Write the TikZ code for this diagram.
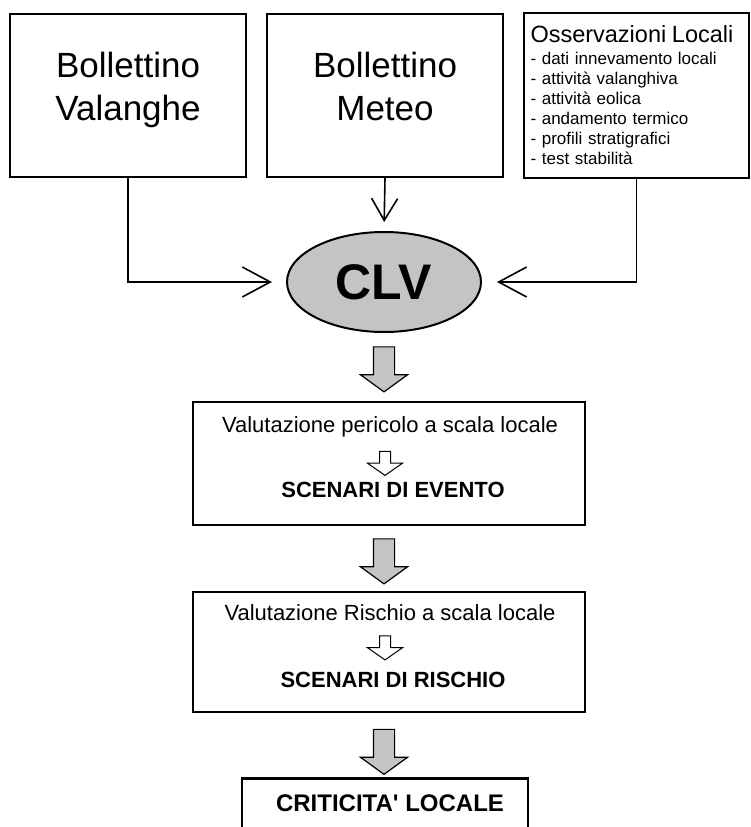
\documentclass[tikz,border=0pt]{standalone}
\usepackage{fontspec}
\setmainfont{Liberation Sans}
\usetikzlibrary{arrows.meta,shapes.geometric,shapes.arrows}
\definecolor{clvgray}{HTML}{C4C4C4}

\begin{document}
\begin{tikzpicture}[x=1pt, y=-1pt,
    every node/.style={font=\fontsize{22}{26}\selectfont},
    srcbox/.style={rectangle, draw, line width=1.5pt, minimum width=236pt,
        minimum height=163pt},
    srctext/.style={align=center, font=\fontsize{35}{43}\selectfont, text depth=8pt},
    stagebox/.style={rectangle, draw, line width=2.8pt, minimum width=392pt},
    stagetitle/.style={font=\fontsize{22}{26}\selectfont\bfseries},
    conn/.style={-{Straight Barb[length=28pt, width=30pt]}, line width=1.6pt},
    bigarrow/.style={single arrow, draw, line width=1.2pt, fill=clvgray, rotate=-90,
        minimum height=45pt, inner xsep=0pt, inner ysep=10pt,
        single arrow head extend=13pt, single arrow tip angle=108},
    smallarrow/.style={single arrow, draw, line width=1pt, fill=white, rotate=-90,
        minimum height=24pt, inner xsep=0pt, inner ysep=5pt,
        single arrow head extend=12pt, single arrow tip angle=110},
]
\useasboundingbox (0,0) rectangle (750,827);

% Sources
\node[srcbox] (boll) at (128,95.5) {};
\node[srctext] (bolltxt) at (128,90) {Bollettino\\Valanghe};
\node[srcbox] (meteo) at (385,95.5) {};
\node[srctext] (meteotxt) at (385,90) {Bollettino\\Meteo};
\node[srcbox, minimum width=225pt, minimum height=165pt, align=left, text width=212pt,
    font=\fontsize{17}{20}\selectfont] (oss) at (636.5,95.5)
    {{\fontsize{23.5}{23.5}\selectfont Osservazioni Locali}\\[2pt]
     - dati innevamento locali\\- attività valanghiva\\- attività eolica\\
     - andamento termico\\- profili stratigrafici\\- test stabilità};

% CLV
\node[ellipse, draw, line width=2pt, fill=clvgray, minimum width=194pt, minimum height=100pt,
    font=\fontsize{50}{50}\selectfont\bfseries] (clv) at (384,282) {CLV};

\draw[conn, shorten >=14pt] (boll.south) |- (clv.west);
\draw[-{Straight Barb[length=22pt, width=26pt]}, line width=1.6pt, shorten >=9pt] (meteo.south) -- (clv.north);
\draw[conn, shorten >=15pt] (oss.south) |- (clv.east);

% Valutazione pericolo
\node[bigarrow] (ba1) at (384,365.5) {};
\node[stagebox, minimum height=123pt] (valper) at (389,463.5) {};
\node (valpertxt) at (390,427) {Valutazione pericolo a scala locale};
\node[smallarrow] (sa1) at (385,461.5) {};
\node[stagetitle] (evento) at (393,490) {SCENARI DI EVENTO};

% Valutazione rischio
\node[bigarrow] (ba2) at (384,557.5) {};
\node[stagebox, minimum height=120pt] (valris) at (389,652) {};
\node (valristxt) at (390,613) {Valutazione Rischio a scala locale};
\node[smallarrow] (sa2) at (385,646) {};
\node[stagetitle] (rischio) at (393,680) {SCENARI DI RISCHIO};

% Criticita'
\node[bigarrow] (ba3) at (384,748) {};
\node[stagebox, minimum width=286pt, minimum height=100pt, anchor=north] (crit) at (385,777) {};
\node[stagetitle, font=\fontsize{24}{28}\selectfont\bfseries] (crittxt) at (390,803) {CRITICITA\textquotesingle{} LOCALE};

\end{tikzpicture}
\end{document}
